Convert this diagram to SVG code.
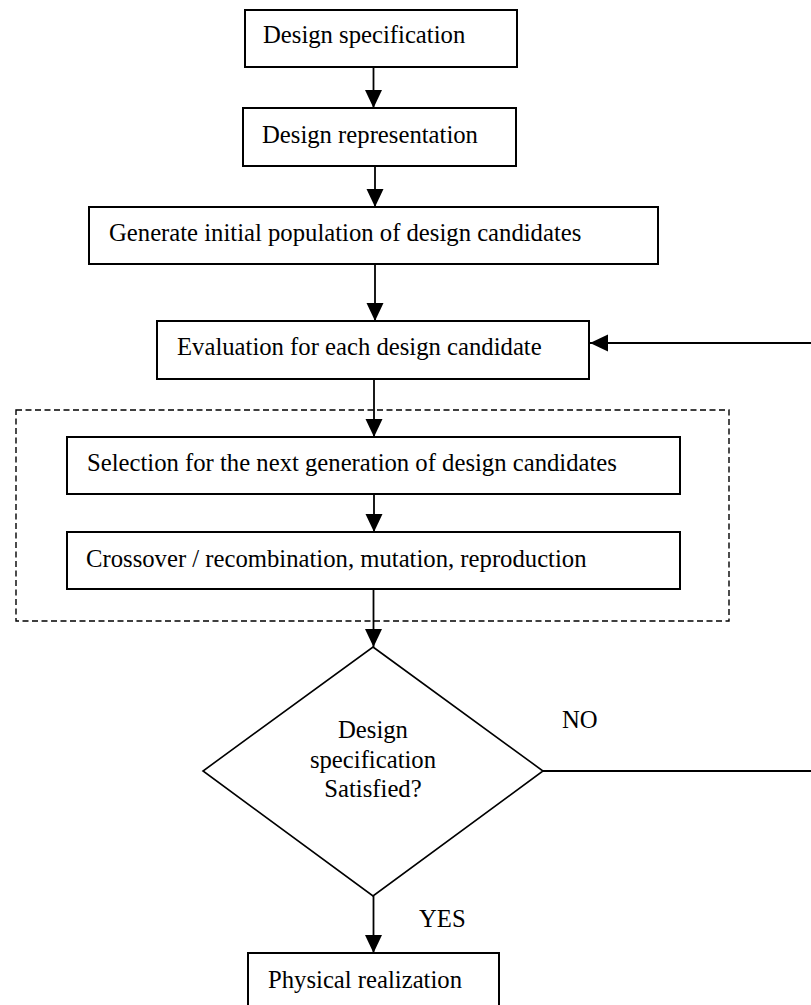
<svg xmlns="http://www.w3.org/2000/svg" width="811" height="1005" viewBox="0 0 811 1005">
<style>
.box{fill:#fff;stroke:#000;stroke-width:2}
.dia{fill:#fff;stroke:#000;stroke-width:1.6}
.dash{fill:none;stroke:#000;stroke-width:1.4;stroke-dasharray:6 3.5}
.t{font-family:"Liberation Serif","Times New Roman",serif;font-size:24.7px;fill:#000}
.c{text-anchor:middle}
.ln{fill:none;stroke:#000;stroke-width:1.8}
</style>
<defs>
<marker id="ah" markerUnits="userSpaceOnUse" markerWidth="19" markerHeight="18" refX="18" refY="8.5" orient="auto">
<path d="M0,0 L18,8.5 L0,17 z" fill="#000"/>
</marker>
</defs>
<rect class="dash" x="16" y="410" width="713" height="211"/>
<g id="connectors">
<line class="ln" x1="373.5" y1="67" x2="373.5" y2="108" marker-end="url(#ah)"/>
<line class="ln" x1="375" y1="166" x2="375" y2="207" marker-end="url(#ah)"/>
<line class="ln" x1="375" y1="264" x2="375" y2="321" marker-end="url(#ah)"/>
<line class="ln" x1="374" y1="379" x2="374" y2="437" marker-end="url(#ah)"/>
<line class="ln" x1="374" y1="494" x2="374" y2="532" marker-end="url(#ah)"/>
<line class="ln" x1="373.5" y1="589" x2="373.5" y2="647" marker-end="url(#ah)"/>
<line class="ln" x1="373.5" y1="896" x2="373.5" y2="953" marker-end="url(#ah)"/>
<path class="ln" d="M543,771 L813,771 L813,343 L590,343" marker-end="url(#ah)"/>
<text class="t" x="562" y="728">NO</text>
<text class="t" x="419" y="927">YES</text>
</g>
<g id="n1"><rect class="box" x="245" y="10" width="272" height="57"/><text class="t" x="263" y="43">Design specification</text></g>
<g id="n2"><rect class="box" x="243" y="108" width="273" height="58"/><text class="t" x="262" y="143">Design representation</text></g>
<g id="n3"><rect class="box" x="89" y="207" width="569" height="57"/><text class="t" x="109" y="241">Generate initial population of design candidates</text></g>
<g id="n4"><rect class="box" x="157" y="321" width="432" height="58"/><text class="t" x="177" y="355">Evaluation for each design candidate</text></g>
<g id="n5"><rect class="box" x="67" y="437" width="613" height="57"/><text class="t" x="87" y="471">Selection for the next generation of design candidates</text></g>
<g id="n6"><rect class="box" x="67" y="532" width="613" height="57"/><text class="t" x="86" y="567">Crossover / recombination, mutation, reproduction</text></g>
<g id="n7"><polygon class="dia" points="373,647 543,771 373,896 203,771"/>
<text class="t c" x="373" y="738">Design</text>
<text class="t c" x="373" y="768">specification</text>
<text class="t c" x="373" y="797">Satisfied?</text></g>
<g id="n8"><rect class="box" x="248" y="953" width="251" height="60"/><text class="t" x="268" y="988">Physical realization</text></g>
</svg>
